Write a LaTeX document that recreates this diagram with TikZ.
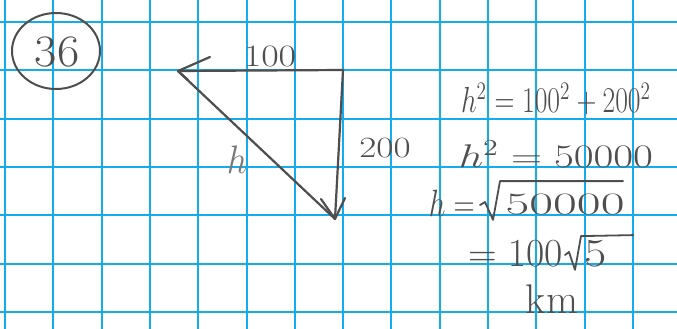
\documentclass[tikz,border=0pt]{standalone}
\usepackage{amsmath}
\usetikzlibrary{calc}
\begin{document}
\begin{tikzpicture}[x=1pt,y=-1pt,
  pen/.style={draw=ink,line width=2.2pt,line cap=round,line join=round},
  hand/.style={text=ink,inner sep=0pt,font=\LARGE,transform shape},
  gridline/.style={draw=gridblue,line width=2pt}]
\definecolor{ink}{RGB}{78,78,78}
\definecolor{faint}{RGB}{120,120,120}
\definecolor{gridblue}{RGB}{20,172,236}
\useasboundingbox (0,0) rectangle (677,329);
\fill[white] (0,0) rectangle (677,329);
% grid
\foreach \gx in {5,53,102,150,198,247,295,343,391,440,488,536,585,633} \draw[gridline] (\gx,0) -- (\gx,329);
\foreach \gy in {22,70,119,167,215,264,312} \draw[gridline] (0,\gy) -- (677,\gy);
% problem number
\draw[pen,line width=2pt] (56,51) ellipse [x radius=44, y radius=38];
\node[hand,xscale=2.8,yscale=2.6] (num) at (57,52) {36};
% triangle
\coordinate (L) at (178,71);
\coordinate (R) at (343,70);
\coordinate (B) at (335,219);
\draw[pen] (R) -- (L);
\draw[pen] (L) -- ++(32,-14);
\draw[pen] (L) -- ++(10,9);
\draw[pen] (R) -- (B);
\draw[pen] (B) -- ++(-14,-20);
\draw[pen] (B) -- ++(10,-21);
\draw[pen] (L) -- (B);
% labels
\node[hand,xscale=2.2,yscale=1.8] (top) at (270,56) {100};
\node[hand,xscale=2.15,yscale=1.7] (side) at (385,148) {200};
\node[hand,text=faint,xscale=2.1,yscale=2.3] (hyp) at (237,160) {$h$};
% working
\node[hand,xscale=1.6,yscale=2.1] (e1) at (556,99) {$h^2=100^2+200^2$};
\node[hand,xscale=2.5,yscale=1.9] (e2) at (556,154) {$h^2=50000$};
\node[hand,xscale=1.7,yscale=2.2,anchor=east] (e3a) at (475,203) {$h=$};
\node[hand,xscale=3.0,yscale=1.8,anchor=west] (e3b) at (505,204) {50000};
\draw[pen,line width=1.8pt] ($(e3b.west)+(-25,1)$) -- ($(e3b.west)+(-20,-2)$) -- ($(e3b.south west)+(-12,5)$) -- ($(e3b.north west)+(-5,-12)$) -- ($(e3b.north east)+(-2,-12)$);
\node[hand,xscale=2.3,yscale=2.3,anchor=east] (e4a) at (563,254) {$=100$};
\node[hand,xscale=2.8,yscale=2.3,anchor=west] (e4b) at (584,254) {5};
\draw[pen,line width=1.8pt] ($(e4b.west)+(-19,1)$) -- ($(e4b.west)+(-15,-2)$) -- ($(e4b.south west)+(-9,2)$) -- ($(e4b.north west)+(-3,-4)$) -- ($(e4b.north east)+(26,-5)$);
\node[hand,xscale=2.4,yscale=2.4] (e5) at (552,299) {km};
\end{tikzpicture}
\end{document}
